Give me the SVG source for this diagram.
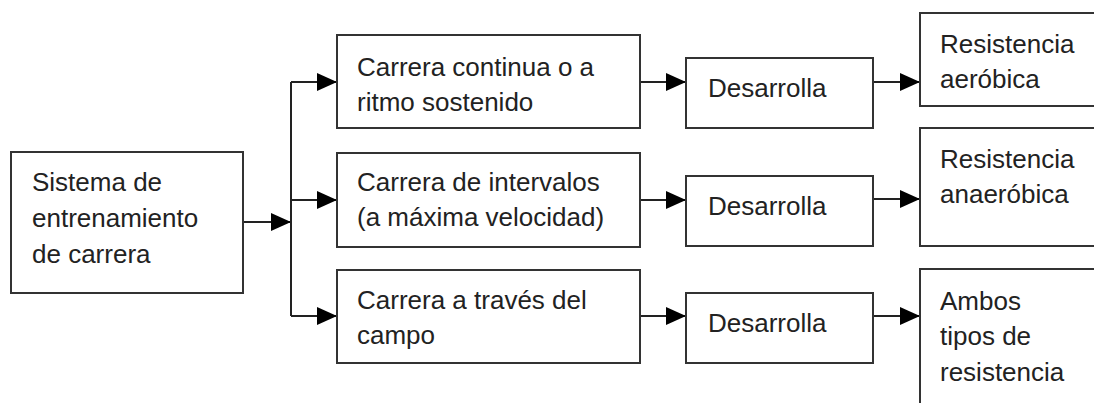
<svg xmlns="http://www.w3.org/2000/svg" width="1094" height="403" viewBox="0 0 1094 403">
<style>
.box{fill:#fff;stroke:#333;stroke-width:2}
.t{font-family:"Liberation Sans",Arial,sans-serif;font-size:26px;fill:#222}
.c{fill:none;stroke:#222;stroke-width:2}
</style>
<defs>
<marker id="ah" markerUnits="userSpaceOnUse" markerWidth="20" markerHeight="18" refX="20" refY="9" orient="auto">
<path d="M0,0 L20,9 L0,18 z" fill="#000"/>
</marker>
</defs>
<rect width="1094" height="403" fill="#fff"/>
<g id="connectors">
<path class="c" d="M243,222 H291" marker-end="url(#ah)"/>
<path class="c" d="M291,82 V316"/>
<path class="c" d="M291,82 H337" marker-end="url(#ah)"/>
<path class="c" d="M291,200 H337" marker-end="url(#ah)"/>
<path class="c" d="M291,316 H337" marker-end="url(#ah)"/>
<path class="c" d="M640,82 H686" marker-end="url(#ah)"/>
<path class="c" d="M640,200 H686" marker-end="url(#ah)"/>
<path class="c" d="M640,316 H686" marker-end="url(#ah)"/>
<path class="c" d="M873,82 H920" marker-end="url(#ah)"/>
<path class="c" d="M873,199 H920" marker-end="url(#ah)"/>
<path class="c" d="M873,316 H920" marker-end="url(#ah)"/>
</g>
<g id="n-sistema">
<rect class="box" x="11" y="152" width="232" height="141"/>
<text class="t" x="32" y="191">Sistema de</text>
<text class="t" x="32" y="227">entrenamiento</text>
<text class="t" x="32" y="263">de carrera</text>
</g>
<g id="n-continua">
<rect class="box" x="337" y="35" width="303" height="93"/>
<text class="t" x="357" y="76">Carrera continua o a</text>
<text class="t" x="357" y="111">ritmo sostenido</text>
</g>
<g id="n-intervalos">
<rect class="box" x="337" y="153" width="303" height="94"/>
<text class="t" x="357" y="191">Carrera de intervalos</text>
<text class="t" x="357" y="226">(a máxima velocidad)</text>
</g>
<g id="n-campo">
<rect class="box" x="337" y="270" width="303" height="93"/>
<text class="t" x="357" y="309">Carrera a través del</text>
<text class="t" x="357" y="344">campo</text>
</g>
<g id="n-desarrolla1">
<rect class="box" x="686" y="58" width="187" height="70"/>
<text class="t" x="708" y="97">Desarrolla</text>
</g>
<g id="n-desarrolla2">
<rect class="box" x="686" y="176" width="187" height="70"/>
<text class="t" x="708" y="215">Desarrolla</text>
</g>
<g id="n-desarrolla3">
<rect class="box" x="686" y="293" width="187" height="70"/>
<text class="t" x="708" y="332">Desarrolla</text>
</g>
<g id="n-aerobica">
<rect class="box" x="920" y="13" width="200" height="93"/>
<text class="t" x="940" y="53">Resistencia</text>
<text class="t" x="940" y="88">aeróbica</text>
</g>
<g id="n-anaerobica">
<rect class="box" x="920" y="128" width="200" height="118"/>
<text class="t" x="940" y="168">Resistencia</text>
<text class="t" x="940" y="203">anaeróbica</text>
</g>
<g id="n-ambos">
<rect class="box" x="920" y="269" width="200" height="160"/>
<text class="t" x="940" y="310">Ambos</text>
<text class="t" x="940" y="345">tipos de</text>
<text class="t" x="940" y="381">resistencia</text>
</g>
</svg>
